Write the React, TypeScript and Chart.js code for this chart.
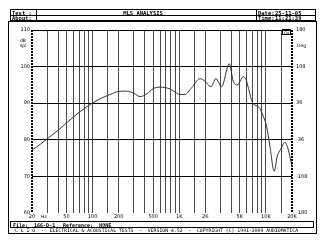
import React, { useEffect, useRef } from 'react';
import { Chart, registerables } from 'chart.js';

Chart.register(...registerables);

// Frequency response (Hz) and level (dB SPL)
const freqs = [20, 25, 30, 40, 50, 70, 93, 122, 160, 198, 247, 300, 352, 420, 502, 600, 781, 900, 1019, 1164, 1390, 1733, 1977, 2321, 2650, 3083, 3774, 4200, 4700, 5474, 5900, 6300, 7025, 8000, 8530, 9300, 10180, 11120, 12470, 13510, 14790, 16570, 18080, 20000];
const spl = [77.2, 78.8, 80.3, 82.6, 84.6, 87.5, 89.6, 91.2, 92.4, 93.2, 93.3, 92.7, 91.8, 92.5, 94.0, 94.4, 93.9, 93.0, 92.4, 92.4, 94.2, 96.7, 96.0, 94.5, 96.7, 94.5, 100.8, 96.0, 95.0, 97.2, 96.5, 94.0, 90.1, 89.2, 88.5, 86.5, 83.7, 78.3, 71.4, 75.5, 77.4, 79.3, 77.4, 72.6];

const gridFreqs = [20, 30, 40, 50, 60, 70, 80, 90, 100, 150, 200, 300, 400, 500, 600, 700, 800, 900, 1000, 1500, 2000, 3000, 4000, 5000, 6000, 7000, 8000, 9000, 10000, 15000, 20000];
const freqTickValues = [20, 50, 100, 200, 500, 1000, 2000, 5000, 10000, 20000];
const freqTickLabels = ['20', '50', '100', '200', '500', '1K', '2K', '5K', '10K', '20K'];
const splTicks = [60, 70, 80, 90, 100, 110];
const phaseTicks = [-180, -108, -36, 36, 108, 180];

const MONO = "'DejaVu Sans Mono', monospace";
const SANS = "'DejaVu Sans', sans-serif";

const framePlugin = {
  id: 'clioFrame',
  beforeDraw(chart: any) {
    const ctx = chart.ctx;
    ctx.save();
    ctx.fillStyle = '#ffffff';
    ctx.fillRect(0, 0, chart.width, chart.height);
    ctx.restore();
  },
  afterDraw(chart: any) {
    const ctx = chart.ctx;
    const a = chart.chartArea;
    const xs = chart.scales.x;
    ctx.save();
    ctx.strokeStyle = '#000';
    ctx.fillStyle = '#000';

    // thick dotted axes
    ctx.lineWidth = 2;
    ctx.setLineDash([2, 1]);
    ctx.beginPath();
    ctx.moveTo(a.left, a.top);
    ctx.lineTo(a.left, a.bottom);
    ctx.moveTo(a.right, a.top);
    ctx.lineTo(a.right, a.bottom);
    ctx.stroke();
    ctx.setLineDash([]);

    // outer frame
    ctx.lineWidth = 1;
    ctx.strokeRect(8.5, 21.5, 308, 212);

    // header box
    ctx.strokeRect(10.5, 9.5, 305, 11);
    ctx.beginPath();
    ctx.moveTo(10.5, 15.5); ctx.lineTo(315.5, 15.5);
    ctx.moveTo(36.5, 9.5); ctx.lineTo(36.5, 20.5);
    ctx.moveTo(256.5, 9.5); ctx.lineTo(256.5, 20.5);
    ctx.stroke();

    ctx.font = `bold 5.5px ${MONO}`;
    ctx.textBaseline = 'alphabetic';
    ctx.textAlign = 'left';
    ctx.fillText('Test :', 12, 14.5);
    ctx.fillText('About:', 12, 20);
    ctx.fillText('Date:', 258, 14.5);
    ctx.fillText('Time:', 258, 20);
    ctx.fillText('25-11-05', 275, 14.5);
    ctx.fillText('11:21:39', 275, 20);
    ctx.textAlign = 'center';
    ctx.fillText('MLS ANALYSIS', 143, 14.5);

    // axis titles
    ctx.font = `4.5px ${SANS}`;
    ctx.textAlign = 'left';
    ctx.fillText('dB', 20, 42);
    ctx.fillText('spl', 20, 47);
    ctx.fillText('Deg', 297, 47);
    ctx.textAlign = 'center';
    ctx.fillText('Hz', xs.getPixelForValue(27.5), 218);

    // small CLIO box
    ctx.strokeRect(282.5, 29.5, 8, 5);
    ctx.font = `3.5px ${SANS}`;
    ctx.fillText('Clo', 286.5, 33.5);

    // file box
    ctx.strokeRect(10.5, 221.5, 303, 6);
    ctx.font = `bold 5px ${MONO}`;
    ctx.textAlign = 'left';
    ctx.fillText('File:  166-D-1', 13, 226.5);
    ctx.fillText('Reference:  NONE', 63, 226.5);

    // footer
    ctx.font = `4.8px ${MONO}`;
    ctx.fillText('C L I O  -  ELECTRICAL & ACOUSTICAL TESTS  -  VERSION 4.52  -  COPYRIGHT (C) 1991-2000 AUDIOMATICA', 15, 232, 296);

    ctx.restore();
  },
};

export default function App() {
  const ref = useRef<HTMLCanvasElement | null>(null);

  useEffect(() => {
    const canvas = ref.current;
    if (!canvas) return;
    const chart = new Chart(canvas, {
      type: 'line',
      data: {
        datasets: [
          {
            data: freqs.map((f, i) => ({ x: f, y: spl[i] })),
            borderColor: '#333',
            borderWidth: 1,
            pointRadius: 0,
            cubicInterpolationMode: 'monotone',
            fill: false,
            yAxisID: 'y',
          },
        ],
      },
      options: {
        responsive: false,
        animation: false,
        events: [],
        layout: { padding: { top: 30, left: 0, right: 0, bottom: 0 } },
        plugins: { legend: { display: false }, tooltip: { enabled: false } },
        scales: {
          x: {
            type: 'logarithmic',
            min: 20,
            max: 20000,
            afterBuildTicks: (s: any) => {
              s.ticks = gridFreqs.map((v) => ({ value: v }));
            },
            afterFit: (s: any) => {
              s.height = 37;
            },
            ticks: {
              autoSkip: false,
              maxRotation: 0,
              minRotation: 0,
              padding: 1,
              color: '#000',
              font: { family: SANS, size: 5 },
              callback: (v: any) => {
                const i = freqTickValues.indexOf(Number(v));
                return i >= 0 ? freqTickLabels[i] : '';
              },
            },
            grid: {
              drawTicks: false,
              lineWidth: 1,
              color: (c: any) =>
                c.tick && (c.tick.value === 20 || c.tick.value === 20000) ? 'rgba(0,0,0,0)' : '#4a4a4a',
            },
            border: { display: false },
          },
          y: {
            type: 'linear',
            position: 'left',
            min: 60,
            max: 110,
            afterBuildTicks: (s: any) => {
              s.ticks = splTicks.map((v) => ({ value: v }));
            },
            afterFit: (s: any) => {
              s.width = 32;
            },
            ticks: { padding: 2, color: '#000', font: { family: SANS, size: 5 } },
            grid: {
              drawTicks: false,
              lineWidth: 1,
              color: (c: any) => (c.tick && c.tick.value === 60 ? 'rgba(0,0,0,0)' : '#000'),
            },
            border: { display: false },
          },
          y2: {
            type: 'linear',
            position: 'right',
            min: -180,
            max: 180,
            afterBuildTicks: (s: any) => {
              s.ticks = phaseTicks.map((v) => ({ value: v }));
            },
            afterFit: (s: any) => {
              s.width = 33;
            },
            ticks: { padding: 4, color: '#000', font: { family: SANS, size: 5 } },
            grid: { display: false, drawTicks: false },
            border: { display: false },
          },
        },
      } as any,
      plugins: [framePlugin],
    });
    return () => chart.destroy();
  }, []);

  return (
    <div style={{ position: 'absolute', left: 0, top: 0, width: 325, height: 250, background: '#fff' }}>
      <canvas ref={ref} width={325} height={250} style={{ display: 'block', width: 325, height: 250 }} />
    </div>
  );
}
